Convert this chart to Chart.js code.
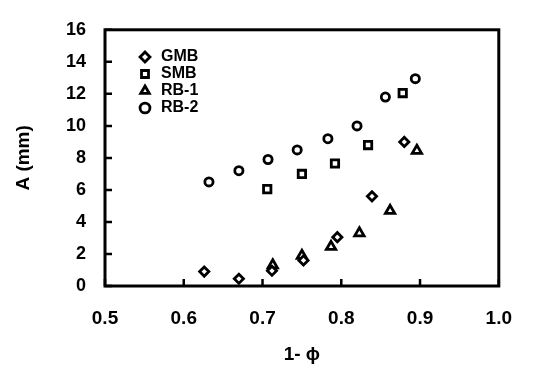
<!DOCTYPE html>
<html><head><meta charset="utf-8">
<script src="https://cdn.jsdelivr.net/npm/chart.js@4"></script>
<style>html,body{margin:0;padding:0;background:#fff;}canvas{display:block;}</style>
</head><body>
<canvas id="c" width="533" height="366"></canvas>
<script>
const seriesNames = ['GMB', 'SMB', 'RB-1', 'RB-2'];
const gmbX = [0.626, 0.670, 0.712, 0.752, 0.795, 0.839, 0.880];
const gmbY = [0.90, 0.45, 0.95, 1.60, 3.05, 5.60, 9.00];
const smbX = [0.706, 0.750, 0.792, 0.834, 0.878];
const smbY = [6.05, 7.00, 7.65, 8.80, 12.05];
const rb1X = [0.713, 0.750, 0.787, 0.823, 0.862, 0.896];
const rb1Y = [1.30, 1.90, 2.45, 3.30, 4.70, 8.45];
const rb2X = [0.632, 0.670, 0.707, 0.744, 0.783, 0.820, 0.856, 0.894];
const rb2Y = [6.50, 7.20, 7.90, 8.50, 9.20, 10.00, 11.80, 12.95];
const xTickValues = [0.5, 0.6, 0.7, 0.8, 0.9, 1.0];
const xTickLabels = ['0.5', '0.6', '0.7', '0.8', '0.9', '1.0'];
const yTickValues = [0, 2, 4, 6, 8, 10, 12, 14, 16];
const yTickLabels = ['0', '2', '4', '6', '8', '10', '12', '14', '16'];
const xTitle = '1- \u03D5';
const yTitle = 'A (mm)';

const FONT = "'Liberation Sans', Arial, sans-serif";
const pts = (xs, ys) => xs.map((x, i) => ({x: x, y: ys[i]}));
const styles = ['rectRot', 'rect', 'triangle', 'circle'];
const radii = [4.6, 5.2, 5.4, 4.1];
const series = [pts(gmbX, gmbY), pts(smbX, smbY), pts(rb1X, rb1Y), pts(rb2X, rb2Y)];

const frame = {
  id: 'frame',
  afterLayout(chart) {
    const lg = chart.legend;
    if (lg) { lg.left += 31; lg.right += 31; lg.top += 48; lg.bottom += 48; }
  },
  afterDatasetsDraw(chart) {
    const {ctx, chartArea: a, scales} = chart;
    ctx.save();
    ctx.strokeStyle = '#000';
    ctx.lineWidth = 2.5;
    ctx.beginPath();
    yTickValues.forEach(v => {
      const y = scales.y.getPixelForValue(v);
      ctx.moveTo(a.left, y); ctx.lineTo(a.left + 7, y);
    });
    xTickValues.forEach(v => {
      const x = scales.x.getPixelForValue(v);
      ctx.moveTo(x, a.bottom); ctx.lineTo(x, a.bottom - 7);
    });
    ctx.stroke();
    ctx.lineWidth = 3;
    ctx.strokeRect(a.left, a.top, a.right - a.left, a.bottom - a.top);
    ctx.restore();
  }
};

new Chart(document.getElementById('c'), {
  type: 'scatter',
  data: {
    datasets: series.map((d, i) => ({
      label: seriesNames[i],
      data: d,
      pointStyle: styles[i],
      pointRadius: radii[i],
      pointHoverRadius: radii[i],
      borderColor: '#000',
      backgroundColor: '#fff',
      borderWidth: 2.8,
      showLine: false
    }))
  },
  options: {
    responsive: false,
    animation: false,
    devicePixelRatio: 1,
    layout: {padding: {left: 0, right: 18, top: 23, bottom: 0}},
    plugins: {
      tooltip: {enabled: false},
      legend: {
        position: 'chartArea',
        align: 'start',
        labels: {
          usePointStyle: true,
          boxHeight: 7,
          padding: 1,
          color: '#000',
          font: {family: FONT, size: 16, weight: 'bold'}
        }
      }
    },
    scales: {
      x: {
        type: 'linear', min: 0.5, max: 1.0,
        afterFit(s) { s.height = 80; },
        afterBuildTicks(s) { s.ticks = xTickValues.map(v => ({value: v})); },
        grid: {display: false, drawTicks: false},
        border: {display: false},
        ticks: {
          padding: 21, color: '#000', maxRotation: 0,
          font: {family: FONT, size: 19, weight: 'bold'},
          callback: (v) => xTickLabels[xTickValues.findIndex(t => Math.abs(t - v) < 1e-6)]
        },
        title: {display: true, text: xTitle, color: '#000', padding: {top: 0, bottom: 0},
          font: {family: FONT, size: 19, weight: 'bold'}}
      },
      y: {
        type: 'linear', min: 0, max: 16,
        afterFit(s) { s.width = 105; },
        afterBuildTicks(s) { s.ticks = yTickValues.map(v => ({value: v})); },
        grid: {display: false, drawTicks: false},
        border: {display: false},
        ticks: {
          padding: 19, color: '#000',
          font: {family: FONT, size: 18, weight: 'bold'},
          callback: (v) => yTickLabels[yTickValues.indexOf(v)]
        },
        title: {display: true, text: yTitle, color: '#000', padding: {top: 12, bottom: 0},
          font: {family: FONT, size: 19, weight: 'bold'}}
      }
    }
  },
  plugins: [frame]
});
</script>
</body></html>
